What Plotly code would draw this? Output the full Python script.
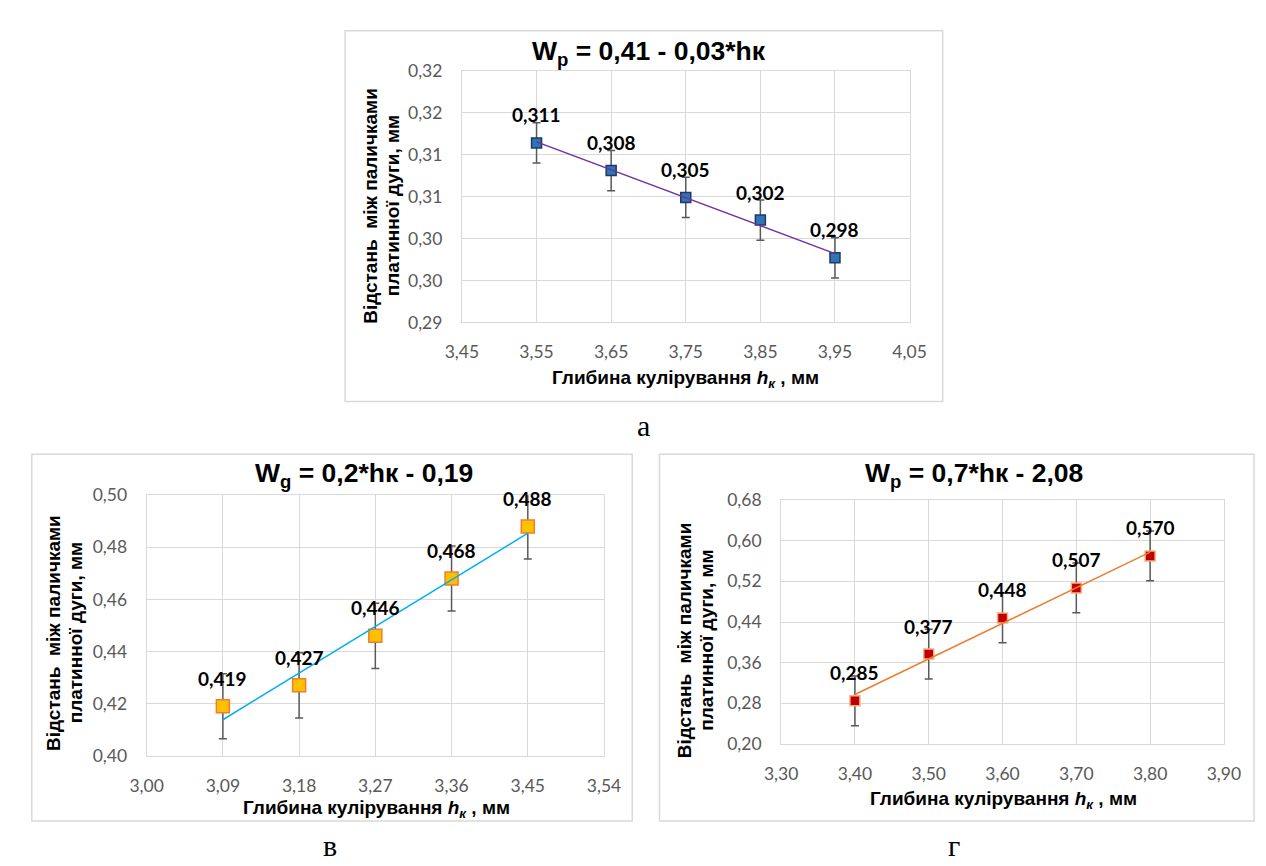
import numpy as np
import plotly.graph_objects as go

W, H = 1266, 866

# ---------------- data: chart "а" ----------------
a_x = [3.55, 3.65, 3.75, 3.85, 3.95]
a_y = [0.3114, 0.3081, 0.3049, 0.3022, 0.2977]
a_err = [0.0024, 0.0024, 0.0024, 0.0024, 0.0024]
a_labels = ["0,311", "0,308", "0,305", "0,302", "0,298"]
a_xticks = [3.45, 3.55, 3.65, 3.75, 3.85, 3.95, 4.05]
a_xticktext = ["3,45", "3,55", "3,65", "3,75", "3,85", "3,95", "4,05"]
a_yticks = [0.29, 0.295, 0.30, 0.305, 0.31, 0.315, 0.32]
a_yticktext = ["0,29", "0,30", "0,30", "0,31", "0,31", "0,32", "0,32"]
a_title = "<b>W<sub>p</sub> = 0,41 - 0,03*hк</b>"

# ---------------- data: chart "в" ----------------
v_x = [3.09, 3.18, 3.27, 3.36, 3.45]
v_y = [0.419, 0.427, 0.446, 0.468, 0.488]
v_err = [0.0125, 0.0125, 0.0125, 0.0125, 0.0125]
v_labels = ["0,419", "0,427", "0,446", "0,468", "0,488"]
v_xticks = [3.00, 3.09, 3.18, 3.27, 3.36, 3.45, 3.54]
v_xticktext = ["3,00", "3,09", "3,18", "3,27", "3,36", "3,45", "3,54"]
v_yticks = [0.40, 0.42, 0.44, 0.46, 0.48, 0.50]
v_yticktext = ["0,40", "0,42", "0,44", "0,46", "0,48", "0,50"]
v_title = "<b>W<sub>g</sub> = 0,2*hк - 0,19</b>"

# ---------------- data: chart "г" ----------------
g_x = [3.40, 3.50, 3.60, 3.70, 3.80]
g_y = [0.285, 0.377, 0.448, 0.507, 0.570]
g_err = [0.049, 0.049, 0.049, 0.049, 0.049]
g_labels = ["0,285", "0,377", "0,448", "0,507", "0,570"]
g_xticks = [3.30, 3.40, 3.50, 3.60, 3.70, 3.80, 3.90]
g_xticktext = ["3,30", "3,40", "3,50", "3,60", "3,70", "3,80", "3,90"]
g_yticks = [0.20, 0.28, 0.36, 0.44, 0.52, 0.60, 0.68]
g_yticktext = ["0,20", "0,28", "0,36", "0,44", "0,52", "0,60", "0,68"]
g_title = "<b>W<sub>p</sub> = 0,7*hк - 2,08</b>"

y_title_lines = ["<b>Відстань  між паличками</b>", "<b>платинної дуги, мм</b>"]
x_title = "<b>Глибина кулірування <i>h<sub>к</sub></i> , мм</b>"


def px(xp):
    return xp / W


def py(yp):
    return 1 - yp / H


GRID = "#d9d9d9"
TICKFONT = dict(family="Lato, Carlito, sans-serif", size=17.5, color="#595959")
BOLD = "Liberation Sans, Arial, sans-serif"

fig = go.Figure()

charts = [
    dict(xs=a_x, ys=a_y, err=a_err, labels=a_labels, xt=a_xticks, xtt=a_xticktext,
         yt=a_yticks, ytt=a_yticktext, title=a_title,
         plot=(449, 909, 53, 311), frame=(329, 943, 12, 392),
         title_pos=(641, 35), ytitle_x=(355, 377), ytitle_y=191, xtitle_pos=(679, 369),
         mfill="#2e75b6", mline="#1f3864", msize=10, tcolor="#7030a0"),
    dict(xs=v_x, ys=v_y, err=v_err, labels=v_labels, xt=v_xticks, xtt=v_xticktext,
         yt=v_yticks, ytt=v_yticktext, title=v_title,
         plot=(125, 595, 488, 755), frame=(7, 624, 446, 822),
         title_pos=(348, 467), ytitle_x=(30, 52), ytitle_y=629, xtitle_pos=(361, 810),
         mfill="#ffc000", mline="#ed7d31", msize=13, tcolor="#00b0f0"),
    dict(xs=g_x, ys=g_y, err=g_err, labels=g_labels, xt=g_xticks, xtt=g_xticktext,
         yt=g_yticks, ytt=g_yticktext, title=g_title,
         plot=(777, 1232, 493, 743), frame=(652, 1263, 446, 822),
         title_pos=(975, 467), ytitle_x=(678, 700), ytitle_y=637, xtitle_pos=(1005, 800),
         mfill="#c00000", mline="#f4b183", msize=10, tcolor="#ed7d31"),
]

annotations = []
shapes = []
layout_axes = {}

for i, c in enumerate(charts, start=1):
    sx = "" if i == 1 else str(i)
    xref, yref = "x" + sx, "y" + sx
    x0, x1, y0, y1 = c["plot"]
    layout_axes["xaxis" + sx] = dict(
        domain=[px(x0), px(x1)], range=[c["xt"][0], c["xt"][-1]],
        tickmode="array", tickvals=c["xt"], ticktext=c["xtt"],
        showgrid=True, gridcolor=GRID, gridwidth=1, zeroline=False,
        showline=True, linecolor=GRID, linewidth=1, mirror=True,
        ticks="", tickfont=TICKFONT, ticklabelstandoff=14,
        anchor=yref, fixedrange=True)
    layout_axes["yaxis" + sx] = dict(
        domain=[py(y1), py(y0)], range=[c["yt"][0], c["yt"][-1]],
        tickmode="array", tickvals=c["yt"], ticktext=c["ytt"],
        showgrid=True, gridcolor=GRID, gridwidth=1, zeroline=False,
        showline=True, linecolor=GRID, linewidth=1, mirror=True,
        ticks="", tickfont=TICKFONT, ticklabelstandoff=15,
        anchor=xref, fixedrange=True)

    # markers with error bars
    fig.add_trace(go.Scatter(
        x=c["xs"], y=c["ys"], mode="markers", xaxis=xref, yaxis=yref,
        marker=dict(symbol="square", size=c["msize"], color=c["mfill"],
                    line=dict(color=c["mline"], width=1.5)),
        error_y=dict(type="data", array=c["err"], visible=True,
                     color="#595959", thickness=1.5, width=4),
        showlegend=False, hoverinfo="skip"))

    # linear trendline fitted to the data
    k, b = np.polyfit(c["xs"], c["ys"], 1)
    tx = [min(c["xs"]), max(c["xs"])]
    fig.add_trace(go.Scatter(
        x=tx, y=[k * t + b for t in tx], mode="lines", xaxis=xref, yaxis=yref,
        line=dict(color=c["tcolor"], width=1.5),
        showlegend=False, hoverinfo="skip"))

    # data labels
    for xv, yv, lab in zip(c["xs"], c["ys"], c["labels"]):
        annotations.append(dict(
            x=xv, y=yv, xref=xref, yref=yref, text="<b>" + lab + "</b>",
            showarrow=False, yshift=28, xanchor="center", yanchor="middle",
            font=dict(family="Lato, sans-serif", size=19, color="#000000")))

    # chart title
    annotations.append(dict(
        x=px(c["title_pos"][0]), y=py(c["title_pos"][1]), xref="paper", yref="paper",
        text=c["title"], showarrow=False, xanchor="center", yanchor="middle",
        font=dict(family=BOLD, size=26.5, color="#000000")))
    # y title (two lines)
    for line_text, lx in zip(y_title_lines, c["ytitle_x"]):
        annotations.append(dict(
            x=px(lx), y=py(c["ytitle_y"]), xref="paper", yref="paper",
            text=line_text, showarrow=False, textangle=-90,
            xanchor="center", yanchor="middle",
            font=dict(family=BOLD, size=19, color="#000000")))
    # x title
    annotations.append(dict(
        x=px(c["xtitle_pos"][0]), y=py(c["xtitle_pos"][1]), xref="paper", yref="paper",
        text=x_title, showarrow=False, xanchor="center", yanchor="middle",
        font=dict(family=BOLD, size=19, color="#000000")))

    # chart frame
    fx0, fx1, fy0, fy1 = c["frame"]
    shapes.append(dict(type="rect", xref="paper", yref="paper",
                       x0=px(fx0), x1=px(fx1), y0=py(fy1), y1=py(fy0),
                       line=dict(color=GRID, width=1.5), layer="below"))

# captions
captions = ["а", "в", "г"]
caption_pos = [(636, 436), (313, 866), (955, 866)]
for cap, (cx, cy) in zip(captions, caption_pos):
    annotations.append(dict(
        x=px(cx), y=py(cy), xref="paper", yref="paper", text=cap, showarrow=False,
        xanchor="center", yanchor="bottom",
        font=dict(family="Liberation Serif, Times New Roman, serif", size=30, color="#000000")))

fig.update_layout(
    width=W, height=H, margin=dict(l=0, r=0, t=0, b=0),
    paper_bgcolor="white", plot_bgcolor="white",
    annotations=annotations, shapes=shapes, showlegend=False,
    **layout_axes)

fig.write_html("out.html")
